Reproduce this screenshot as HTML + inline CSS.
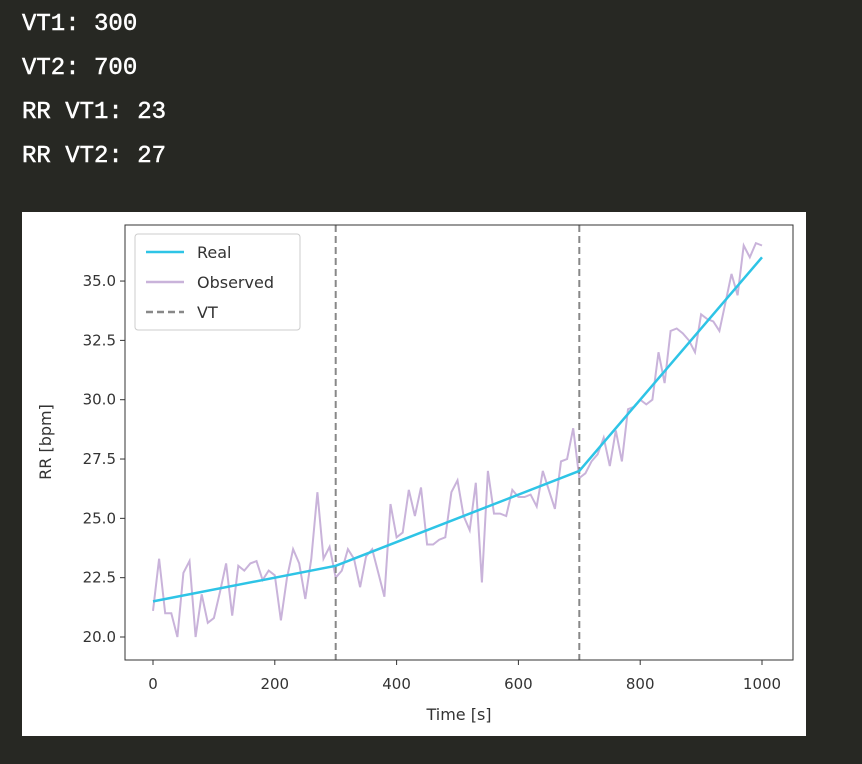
<!DOCTYPE html>
<html><head><meta charset="utf-8"><style>
body{margin:0;width:862px;height:764px;background:#272823;overflow:hidden;position:relative;font-family:"Liberation Sans",sans-serif}
.out{position:absolute;left:22px;color:#fff;font-family:"Liberation Mono",monospace;font-size:24px;font-weight:normal;line-height:26px;-webkit-text-stroke:0.5px #fff}
#panel{position:absolute;left:22px;top:212px;width:784px;height:524px;background:#fff}
</style></head><body>
<div class="out" style="top:12px">VT1: 300</div>
<div class="out" style="top:56px">VT2: 700</div>
<div class="out" style="top:100px">RR VT1: 23</div>
<div class="out" style="top:144px">RR VT2: 27</div>
<div id="panel">
<svg id="chart" width="784" height="524" font-family="DejaVu Sans, sans-serif"></svg>
</div>
<script>
const observed=[21.1,23.3,21.0,21.0,20.0,22.7,23.2,20.0,21.8,20.6,20.8,21.9,23.1,20.9,23.0,22.8,23.1,23.2,22.4,22.8,22.6,20.7,22.5,23.7,23.1,21.6,23.3,26.1,23.3,23.8,22.5,22.8,23.7,23.3,22.1,23.4,23.7,
22.7,21.7,25.6,24.2,24.4,26.2,25.1,26.3,23.9,23.9,24.1,24.2,26.1,26.6,25.1,24.5,26.5,22.3,27.0,25.2,25.2,25.1,26.2,25.9,25.9,26.0,25.5,27.0,26.2,25.4,27.4,27.5,28.8,
26.7,26.9,27.4,27.7,28.4,27.2,28.7,27.4,29.6,29.7,30.0,29.8,30.0,32.0,30.7,32.9,33.0,32.8,32.5,32.0,33.6,33.4,33.3,32.9,34.1,35.3,34.4,36.5,36.0,36.6,36.5];
const realTimes=[0,300,700,1000];
const realValues=[21.5,23,27,36];
const vtTimes=[300,700];
const xTicks=[0,200,400,600,800,1000];
const yTicks=[20.0,22.5,25.0,27.5,30.0,32.5,35.0];
const step=10;
const L=103,R=771,T=13,B=448;
const X=v=>131+(v)*0.609;
const Y=v=>425-(v-20)*23.73;
const NS="http://www.w3.org/2000/svg";
const svg=document.getElementById('chart');
function mk(t,a){const e=document.createElementNS(NS,t);for(const k in a)e.setAttribute(k,a[k]);svg.appendChild(e);return e;}
xTicks.forEach(v=>{
 const l=mk('line',{x1:X(v),x2:X(v),y1:B,y2:B+5,stroke:'#333'});
 
 
 const t=mk('text',{x:X(v),y:B+29,'text-anchor':'middle','font-size':'15',fill:'#333'});t.textContent=v;
 
 
});
yTicks.forEach(v=>{
 const l=mk('line',{x1:L-5,x2:L,y1:Y(v),y2:Y(v),stroke:'#333'});
 
 
 const t=mk('text',{x:L-9,y:Y(v)+5,'text-anchor':'end','font-size':'15',fill:'#333'});t.textContent=v.toFixed(1);
 
 
});
let d=observed.map((v,i)=>(i?'L':'M')+X(i*step).toFixed(1)+' '+Y(v).toFixed(1)).join(' ');
const ob=mk('path',{d:d,fill:'none',stroke:'#c9b3da','stroke-width':2});


vtTimes.forEach(v=>{
 const l=mk('line',{x1:X(v),x2:X(v),y1:T,y2:B,stroke:'#888','stroke-width':2,'stroke-dasharray':'7,4'});
 
 
});
d=realTimes.map((t,i)=>(i?'L':'M')+X(t).toFixed(1)+' '+Y(realValues[i]).toFixed(1)).join(' ');
const rl=mk('path',{d:d,fill:'none',stroke:'#2ec4e6','stroke-width':2.5});


const fr=mk('rect',{x:L,y:T,width:R-L,height:B-T,fill:'none',stroke:'#333','stroke-width':1});


const xl=mk('text',{x:(L+R)/2,y:B+60,'text-anchor':'middle','font-size':'16',fill:'#333'});xl.textContent='Time [s]';


const yl=mk('text',{x:0,y:0,'text-anchor':'middle','font-size':'16',fill:'#333',transform:'translate(29,230) rotate(-90)'});yl.textContent='RR [bpm]';


const lg=mk('rect',{x:113,y:22,width:165,height:96,rx:3,fill:'#fff',stroke:'#ccc'});


[['Real','#2ec4e6',''],['Observed','#c9b3da',''],['VT','#888','7,4']].forEach((e,i)=>{
 const y=40+i*30;
 const l=mk('line',{x1:124,x2:162,y1:y,y2:y,stroke:e[1],'stroke-width':2.5,'stroke-dasharray':e[2]});
 
 
 const t=mk('text',{x:175,y:y+6,'font-size':'16',fill:'#333'});t.textContent=e[0];
 
 
});
</script>
</body></html>
